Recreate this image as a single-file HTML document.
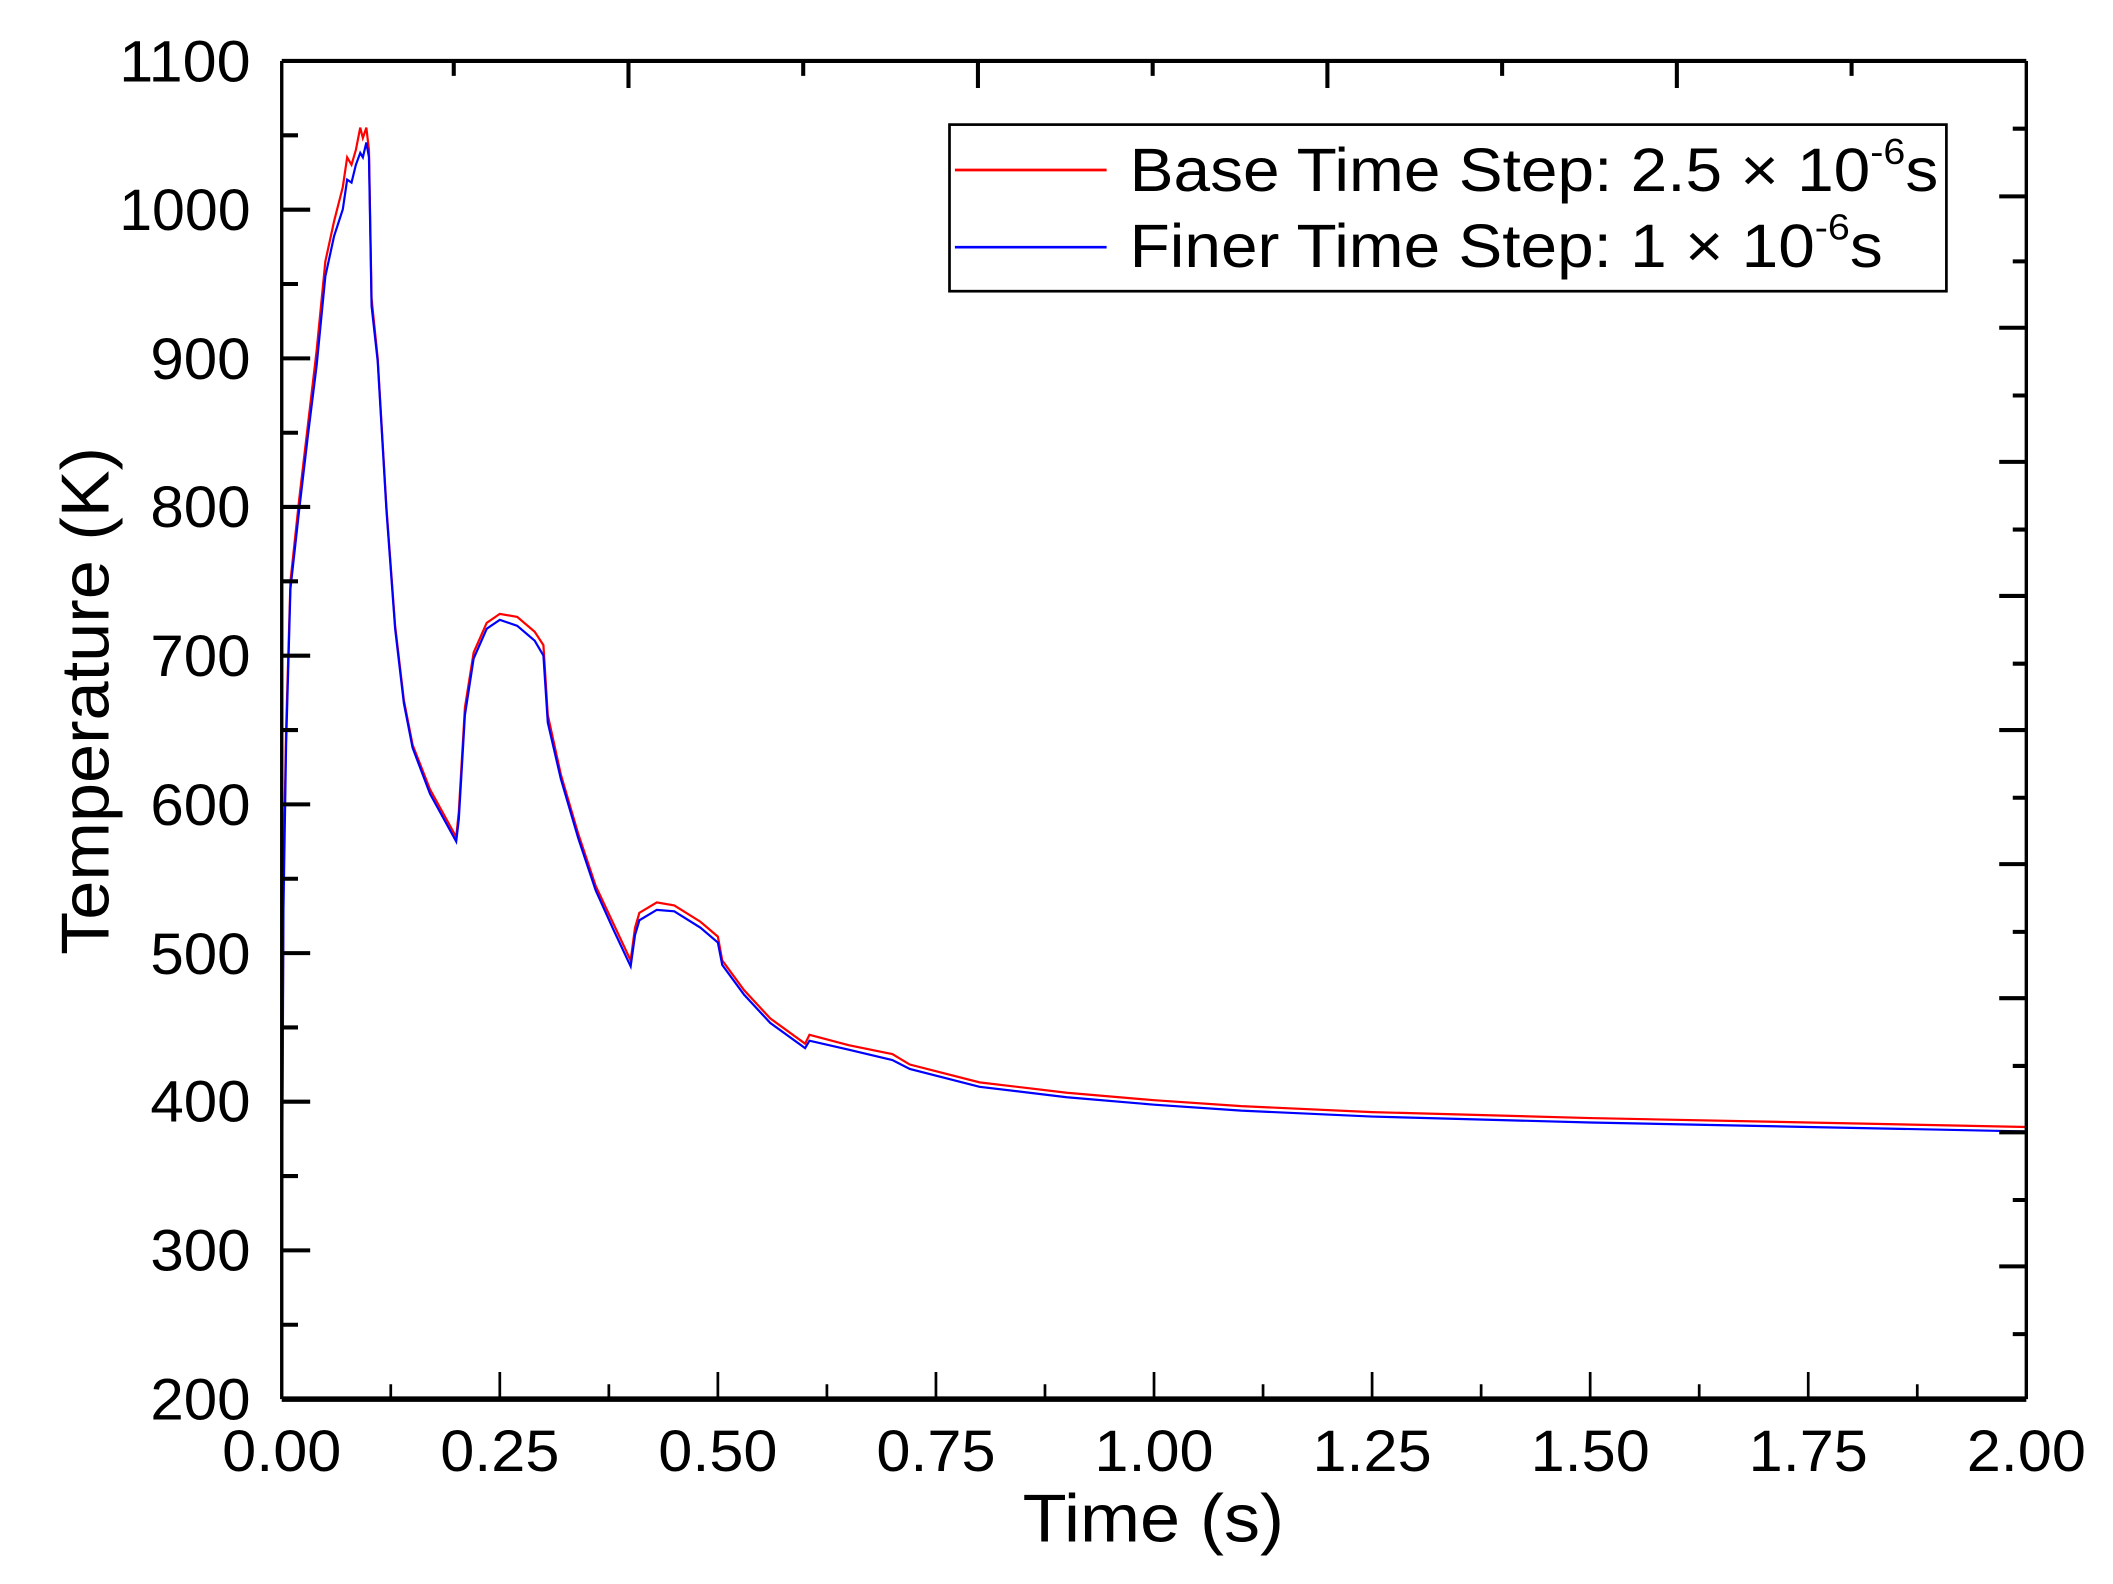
<!DOCTYPE html>
<html><head><meta charset="utf-8"><style>
html,body{margin:0;padding:0;background:#fff;}
svg{display:block;}
text{font-family:"Liberation Sans",sans-serif;fill:#000;}
</style></head><body>
<svg width="2113" height="1584" viewBox="0 0 1560 1169.5" preserveAspectRatio="none" xmlns="http://www.w3.org/2000/svg">
<rect width="1560" height="1169.5" fill="#fff"/>
<g transform="matrix(644 0 0 -1.098 208 1252.6)" fill="none">
<polyline vector-effect="non-scaling-stroke" stroke="#ff0000" stroke-width="2.2" points="0,300 0.002,550 0.005,650 0.01,750 0.02,805 0.03,855 0.04,905 0.05,965 0.06,992 0.07,1015 0.075,1035 0.08,1030 0.085,1040 0.09,1055 0.093,1048 0.097,1055 0.1,1040 0.103,940 0.11,900 0.12,800 0.13,720 0.14,670 0.15,640 0.17,610 0.2,578 0.203,595 0.21,665 0.22,702 0.235,722 0.25,728 0.27,726 0.29,716 0.3,707 0.305,660 0.32,620 0.34,580 0.36,545 0.38,520 0.4,495 0.405,517 0.41,527 0.43,534 0.45,532 0.48,521 0.5,511 0.505,495 0.53,475 0.56,456 0.6,439 0.605,445 0.65,438 0.7,432 0.72,425 0.8,413 0.9,406 1.0,401 1.1,397 1.25,393 1.5,389 1.75,386 2.0,383"/>
<polyline vector-effect="non-scaling-stroke" stroke="#0000ff" stroke-width="2.2" points="0,290 0.002,530 0.005,640 0.01,745 0.02,798 0.03,848 0.04,895 0.05,955 0.06,982 0.07,1000 0.075,1020 0.08,1018 0.085,1030 0.09,1038 0.093,1035 0.097,1045 0.1,1035 0.103,935 0.11,898 0.12,798 0.13,718 0.14,668 0.15,638 0.17,607 0.2,575 0.203,590 0.21,660 0.22,698 0.235,718 0.25,724 0.27,720 0.29,710 0.3,700 0.305,655 0.32,617 0.34,577 0.36,542 0.38,516 0.4,491 0.405,512 0.41,522 0.43,529 0.45,528 0.48,517 0.5,507 0.505,492 0.53,472 0.56,453 0.6,436 0.605,441 0.65,435 0.7,428 0.72,422 0.8,410 0.9,403 1.0,398 1.1,394 1.25,390 1.5,386 1.75,383 2.0,380"/>
</g>
<g stroke="#000" fill="none">
<line x1="208" y1="45" x2="1496" y2="45" stroke-width="3"/>
<line x1="208" y1="1033" x2="1496" y2="1033" stroke-width="4"/>
<line x1="208" y1="45" x2="208" y2="1033" stroke-width="2.5"/>
<line x1="1496" y1="45" x2="1496" y2="1033" stroke-width="2.5"/>
<g stroke-width="2">
<path d="M369,1033V1013 M530,1033V1013 M691,1033V1013 M852,1033V1013 M1013,1033V1013 M1174,1033V1013 M1335,1033V1013 M288.5,1033V1022 M449.5,1033V1022 M610.5,1033V1022 M771.5,1033V1022 M932.5,1033V1022 M1093.5,1033V1022 M1254.5,1033V1022 M1415.5,1033V1022"/>
<path d="M464,45V65 M722,45V65 M980,45V65 M1238,45V65 M335,45V56 M593,45V56 M851,45V56 M1109,45V56 M1367,45V56" stroke-width="3"/>
<path stroke-width="3" d="M208,154.8H229 M208,264.6H229 M208,374.3H229 M208,484.1H229 M208,593.9H229 M208,703.7H229 M208,813.4H229 M208,923.2H229 M208,99.9H220 M208,209.7H220 M208,319.5H220 M208,429.2H220 M208,539H220 M208,648.8H220 M208,758.6H220 M208,868.3H220 M208,978.1H220"/>
<path stroke-width="3" d="M1496,145H1476 M1496,242H1476 M1496,341H1476 M1496,440H1476 M1496,539H1476 M1496,638H1476 M1496,737H1476 M1496,836H1476 M1496,935H1476 M1496,95H1486 M1496,193H1486 M1496,292H1486 M1496,391H1486 M1496,490H1486 M1496,589H1486 M1496,688H1486 M1496,787H1486 M1496,886H1486 M1496,985H1486"/>
</g>
</g>
<g font-size="43" text-anchor="end">
<text x="185" y="60" textLength="97" lengthAdjust="spacingAndGlyphs">1100</text>
<text x="185" y="170" textLength="97" lengthAdjust="spacingAndGlyphs">1000</text>
<text x="185" y="280" textLength="74" lengthAdjust="spacingAndGlyphs">900</text>
<text x="185" y="389" textLength="74" lengthAdjust="spacingAndGlyphs">800</text>
<text x="185" y="499" textLength="74" lengthAdjust="spacingAndGlyphs">700</text>
<text x="185" y="609" textLength="74" lengthAdjust="spacingAndGlyphs">600</text>
<text x="185" y="719" textLength="74" lengthAdjust="spacingAndGlyphs">500</text>
<text x="185" y="828" textLength="74" lengthAdjust="spacingAndGlyphs">400</text>
<text x="185" y="938" textLength="74" lengthAdjust="spacingAndGlyphs">300</text>
<text x="185" y="1048" textLength="74" lengthAdjust="spacingAndGlyphs">200</text>
</g>
<g font-size="43">
<text x="164" y="1086" textLength="88" lengthAdjust="spacingAndGlyphs">0.00</text>
<text x="325" y="1086" textLength="88" lengthAdjust="spacingAndGlyphs">0.25</text>
<text x="486" y="1086" textLength="88" lengthAdjust="spacingAndGlyphs">0.50</text>
<text x="647" y="1086" textLength="88" lengthAdjust="spacingAndGlyphs">0.75</text>
<text x="808" y="1086" textLength="88" lengthAdjust="spacingAndGlyphs">1.00</text>
<text x="969" y="1086" textLength="88" lengthAdjust="spacingAndGlyphs">1.25</text>
<text x="1130" y="1086" textLength="88" lengthAdjust="spacingAndGlyphs">1.50</text>
<text x="1291" y="1086" textLength="88" lengthAdjust="spacingAndGlyphs">1.75</text>
<text x="1452" y="1086" textLength="88" lengthAdjust="spacingAndGlyphs">2.00</text>
</g>
<text x="755" y="1138" font-size="50" textLength="193" lengthAdjust="spacingAndGlyphs">Time (s)</text>
<text transform="translate(80,705) rotate(-90)" font-size="50" textLength="375" lengthAdjust="spacingAndGlyphs">Temperature (K)</text>
<rect x="701" y="92" width="736" height="123" fill="#fff" stroke="#000" stroke-width="2"/>
<line x1="705" y1="125.5" x2="817" y2="125.5" stroke="#ff0000" stroke-width="2"/>
<line x1="705" y1="182.5" x2="817" y2="182.5" stroke="#0000ff" stroke-width="2"/>
<text x="834" y="141" font-size="45" textLength="597" lengthAdjust="spacingAndGlyphs">Base Time Step: 2.5 × 10<tspan font-size="27" dy="-20">-6</tspan><tspan dy="20">s</tspan></text>
<text x="834" y="197" font-size="45" textLength="556" lengthAdjust="spacingAndGlyphs">Finer Time Step: 1 × 10<tspan font-size="27" dy="-20">-6</tspan><tspan dy="20">s</tspan></text>
</svg>
</body></html>
